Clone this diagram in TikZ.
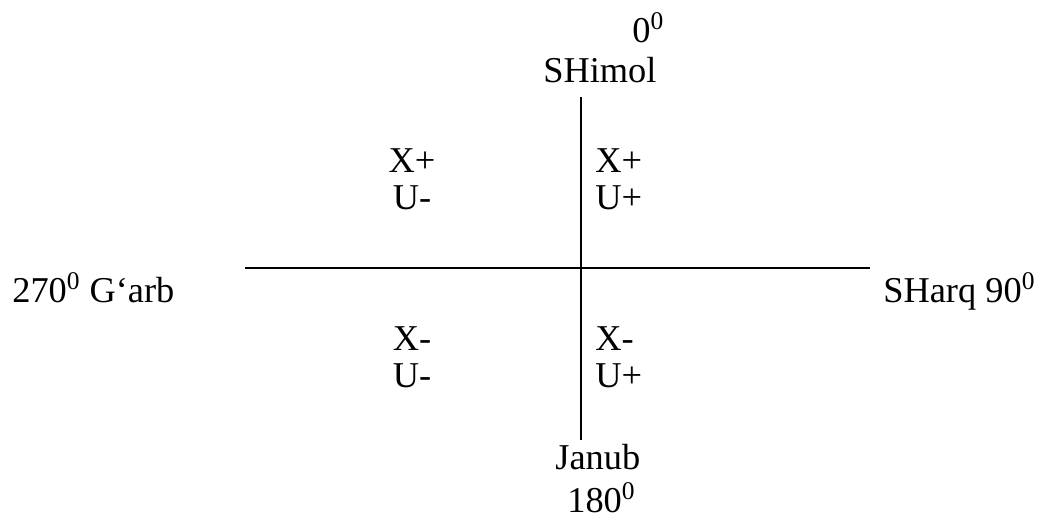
\documentclass[tikz,border=0pt]{standalone}
\usepackage{fontspec}
\setmainfont{Liberation Serif}
\usetikzlibrary{positioning}
\tikzset{
dirlabel/.style={
  font=\fontsize{20.7}{21}\selectfont,
  inner sep=0pt,
  anchor=base west
},
signlabel/.style={
  dirlabel,
  anchor=base
},
signlabelr/.style={
  dirlabel
},
axisline/.style={
  line width=1.1pt,
  draw=black
}
}

\begin{document}
\begin{tikzpicture}[x=0.02cm, y=-0.02cm]
  \useasboundingbox (0,0) rectangle (1038,519);
  % Axis positions (px)
  \def\axX{581}
  \def\axY{268}
  \def\colL{412}   % left quadrant signs
  \def\colR{595}   % right quadrant signs
  \def\rowA{173}
  \def\rowB{210}
  \def\rowC{351}
  \def\rowD{388}

  % Axis ends
  \coordinate (north) at (\axX, 97);
  \coordinate (south) at (\axX, 440);
  \coordinate (west) at (245, \axY);
  \coordinate (east) at (870, \axY);

  % Axes
  \draw[axisline] (north) -- (south);
  \draw[axisline] (west) -- (east);

  % Directions
  \node[dirlabel] (deg0) at (632, 43) {0\textsuperscript{0}};
  \node[dirlabel] (shimol) at (543, 83) {SHimol};
  \node[dirlabel] (janub) at (555, 470) {Janub};
  \node[dirlabel] (deg180) at (567, 513) {180\textsuperscript{0}};
  \node[dirlabel] (garb) at (12, 303) {270\textsuperscript{0} G‘arb};
  \node[dirlabel] (sharq) at (883, 303) {SHarq 90\textsuperscript{0}};

  % Quadrant signs
  \node[signlabel] (nwx) at (\colL, \rowA) {X+};
  \node[signlabel] (nwu) at (\colL, \rowB) {U-};
  \node[signlabelr] (nex) at (\colR, \rowA) {X+};
  \node[signlabelr] (neu) at (\colR, \rowB) {U+};
  \node[signlabel] (swx) at (\colL, \rowC) {X-};
  \node[signlabel] (swu) at (\colL, \rowD) {U-};
  \node[signlabelr] (sex) at (\colR, \rowC) {X-};
  \node[signlabelr] (seu) at (\colR, \rowD) {U+};
\end{tikzpicture}
\end{document}
